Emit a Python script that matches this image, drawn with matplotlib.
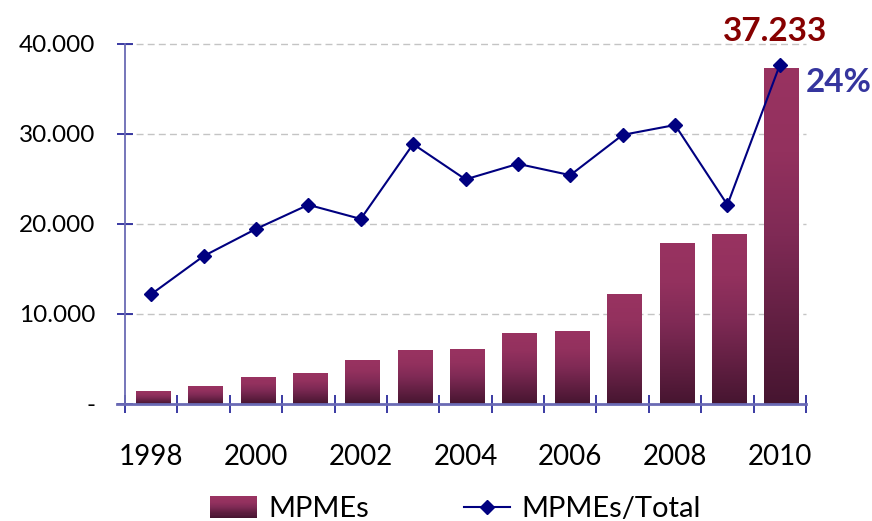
import matplotlib
matplotlib.use("Agg")
import matplotlib.pyplot as plt
import numpy as np
from matplotlib.colors import LinearSegmentedColormap
from matplotlib.patches import Rectangle
from matplotlib.lines import Line2D
from matplotlib.legend_handler import HandlerBase

# ---- data ----
years = [1998, 1999, 2000, 2001, 2002, 2003, 2004, 2005, 2006, 2007, 2008, 2009, 2010]
mpmes = [1440, 1890, 2890, 3440, 4780, 6000, 6110, 7780, 8110, 12200, 17800, 18800, 37233]
share_pct = [7.77, 10.47, 12.39, 14.1, 13.1, 18.4, 15.9, 17.0, 16.2, 19.05, 19.75, 14.1, 24.0]
ytick_vals = [0, 10000, 20000, 30000, 40000]
ytick_labels = ["-", "10.000", "20.000", "30.000", "40.000"]
xtick_years = [1998, 2000, 2002, 2004, 2006, 2008, 2010]
bar_label = "37.233"
line_label = "24%"
series_names = ["MPMEs", "MPMEs/Total"]

plt.rcParams['font.family'] = ['Lato', 'DejaVu Sans']

W, H = 872, 521
fig = plt.figure(figsize=(W / 100, H / 100), dpi=100)
ax = fig.add_axes([125 / W, (521 - 404) / H, 681 / W, 360 / H])

cmap = LinearSegmentedColormap.from_list(
    "bargrad", [(0.0, "#461530"), (0.5, "#7f2a55"), (0.75, "#93315e"), (1.0, "#993361")])
grad = np.linspace(1, 0, 256).reshape(-1, 1)

x = np.arange(len(years))
bw = 0.65
for xi, v in zip(x, mpmes):
    ax.imshow(grad, extent=[xi - bw / 2 + 0.03, xi + bw / 2 + 0.03, 0, v], aspect='auto',
              cmap=cmap, vmin=0, vmax=1, zorder=2, interpolation='bilinear')

ax.set_xlim(-0.5, len(years) - 0.5)
ax.set_ylim(0, 40000)

# grid
ax.hlines(ytick_vals[1:], -0.5, len(years) - 0.5, colors="#c4c4c4", linewidth=1.0,
          linestyles=(0, (5, 3)), zorder=1, clip_on=False)

spine_col = "#6a6ab4"
tick_col = "#2b2b9c"
for s in ["top", "right"]:
    ax.spines[s].set_visible(False)
ax.spines["left"].set_color(spine_col)
ax.spines["bottom"].set_color(spine_col)
ax.spines["left"].set_linewidth(1.3)
ax.spines["bottom"].set_linewidth(2.0)
ax.spines["bottom"].set_bounds(-0.5 - 8 / 52.4, len(years) - 0.5)

ax.set_yticks(ytick_vals)
ax.set_yticklabels(ytick_labels)
ax.tick_params(axis='y', direction='inout', length=11.5, width=1.3, color=tick_col,
               labelsize=17.5, pad=15.5, labelcolor="black")

ax.set_xticks([years.index(y) for y in xtick_years])
ax.set_xticklabels([str(y) for y in xtick_years])
ax.set_xticks(np.arange(-0.5, len(years), 1.0), minor=True)
ax.tick_params(axis='x', which='major', length=0, labelsize=20, pad=29, labelcolor="black")
ax.tick_params(axis='x', which='minor', direction='inout', length=13.5, width=1.3, color=tick_col)

# line on secondary scale
ax2 = ax.twinx()
ax2.set_ylim(0, 24.0 / 37670 * 40000)
ax2.set_xlim(ax.get_xlim())
ax2.axis('off')
line_col = "#000080"
ax2.plot(x, share_pct, color=line_col, linewidth=1.5, marker='D', markersize=7,
         markerfacecolor=line_col, markeredgecolor=line_col, zorder=3)

# annotations
ax.annotate(bar_label, xy=(x[-1], mpmes[-1]), xytext=(-3.6, 20), textcoords='offset points',
            ha='center', va='baseline', fontsize=24, fontweight='bold', color="#860000",
            annotation_clip=False)
ax2.annotate(line_label, xy=(x[-1], share_pct[-1]), xytext=(18.5, -19.5), textcoords='offset points',
             ha='left', va='baseline', fontsize=24, fontweight='bold', color="#35359e",
             annotation_clip=False)

# legend with gradient handle
class GradHandler(HandlerBase):
    def create_artists(self, legend, orig_handle, xdescent, ydescent, width, height, fontsize, trans):
        arts = []
        n = 20
        h_total = height * 1.03
        y0 = -ydescent - (h_total - height) / 2
        for i in range(n):
            c = cmap(i / (n - 1))
            r = Rectangle((-xdescent, y0 + h_total * i / n), width, h_total / n + 0.3,
                          facecolor=c, edgecolor='none', transform=trans)
            arts.append(r)
        return arts

bar_proxy = Rectangle((0, 0), 1, 1)
line_proxy = Line2D([0], [0], color=line_col, linewidth=1.5, marker='D', markersize=7,
                    markerfacecolor=line_col)
fig.legend([bar_proxy, line_proxy], series_names, handler_map={Rectangle: GradHandler()},
           loc='lower center', bbox_to_anchor=(455.5 / W, -0.053), ncol=2, frameon=False,
           fontsize=21, handlelength=1.6, handletextpad=0.38, columnspacing=3.25)

fig.savefig("out.png", dpi=100)
